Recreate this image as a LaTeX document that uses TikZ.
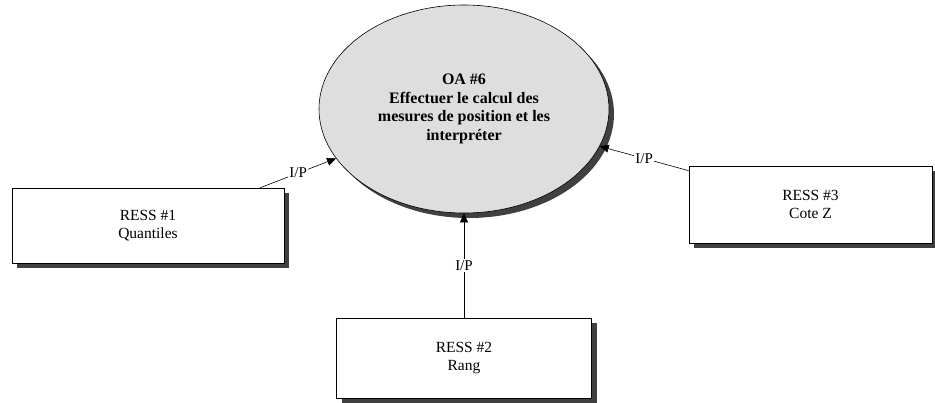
\documentclass[tikz,border=0pt]{standalone}
\usepackage{fontspec}
\setmainfont{Liberation Serif}
\usetikzlibrary{shapes.geometric,shadows,arrows.meta}

\begin{document}
\begin{tikzpicture}[x=1pt,y=-1pt,line width=0.6pt,
        >={Triangle[length=9pt,width=8pt]},
        shade/.style={drop shadow={shadow xshift=5pt,shadow yshift=-5pt,fill=black!75,opacity=1}},
        ress/.style={draw,fill=white,align=center,inner sep=0pt,shade,
            font=\fontsize{15.5}{18}\selectfont},
        oa/.style={ellipse,draw,fill=black!13,align=center,inner sep=0pt,shade,
            minimum width=290pt,minimum height=208pt,font=\fontsize{16}{18.5}\selectfont\bfseries},
        io/.style={fill=white,inner sep=1pt,font=\fontsize{15}{18}\selectfont}]
        \useasboundingbox (0,0) rectangle (935,402);

        \node[oa] (oa6) at (464,109) {OA \#6\\Effectuer le calcul des\\mesures de position et les\\interpréter};

        \node[ress,minimum width=272pt,minimum height=75pt] (ress1) at (148,225.5) {RESS \#1\\Quantiles};
        \node[ress,minimum width=255pt,minimum height=80pt] (ress2) at (464,358) {RESS \#2\\Rang};
        \node[ress,minimum width=243pt,minimum height=77pt] (ress3) at (810.5,204.5) {RESS \#3\\Cote Z};

        \draw[->] ([xshift=-24pt]ress1.north east) -- node[io] {I/P} (oa6);
        \draw[->] (ress2.north) -- node[io] {I/P} (oa6.south);
        \draw[->] ([yshift=-5pt]ress3.north west) -- node[io] {I/P} (oa6);
    \end{tikzpicture}
\end{document}
